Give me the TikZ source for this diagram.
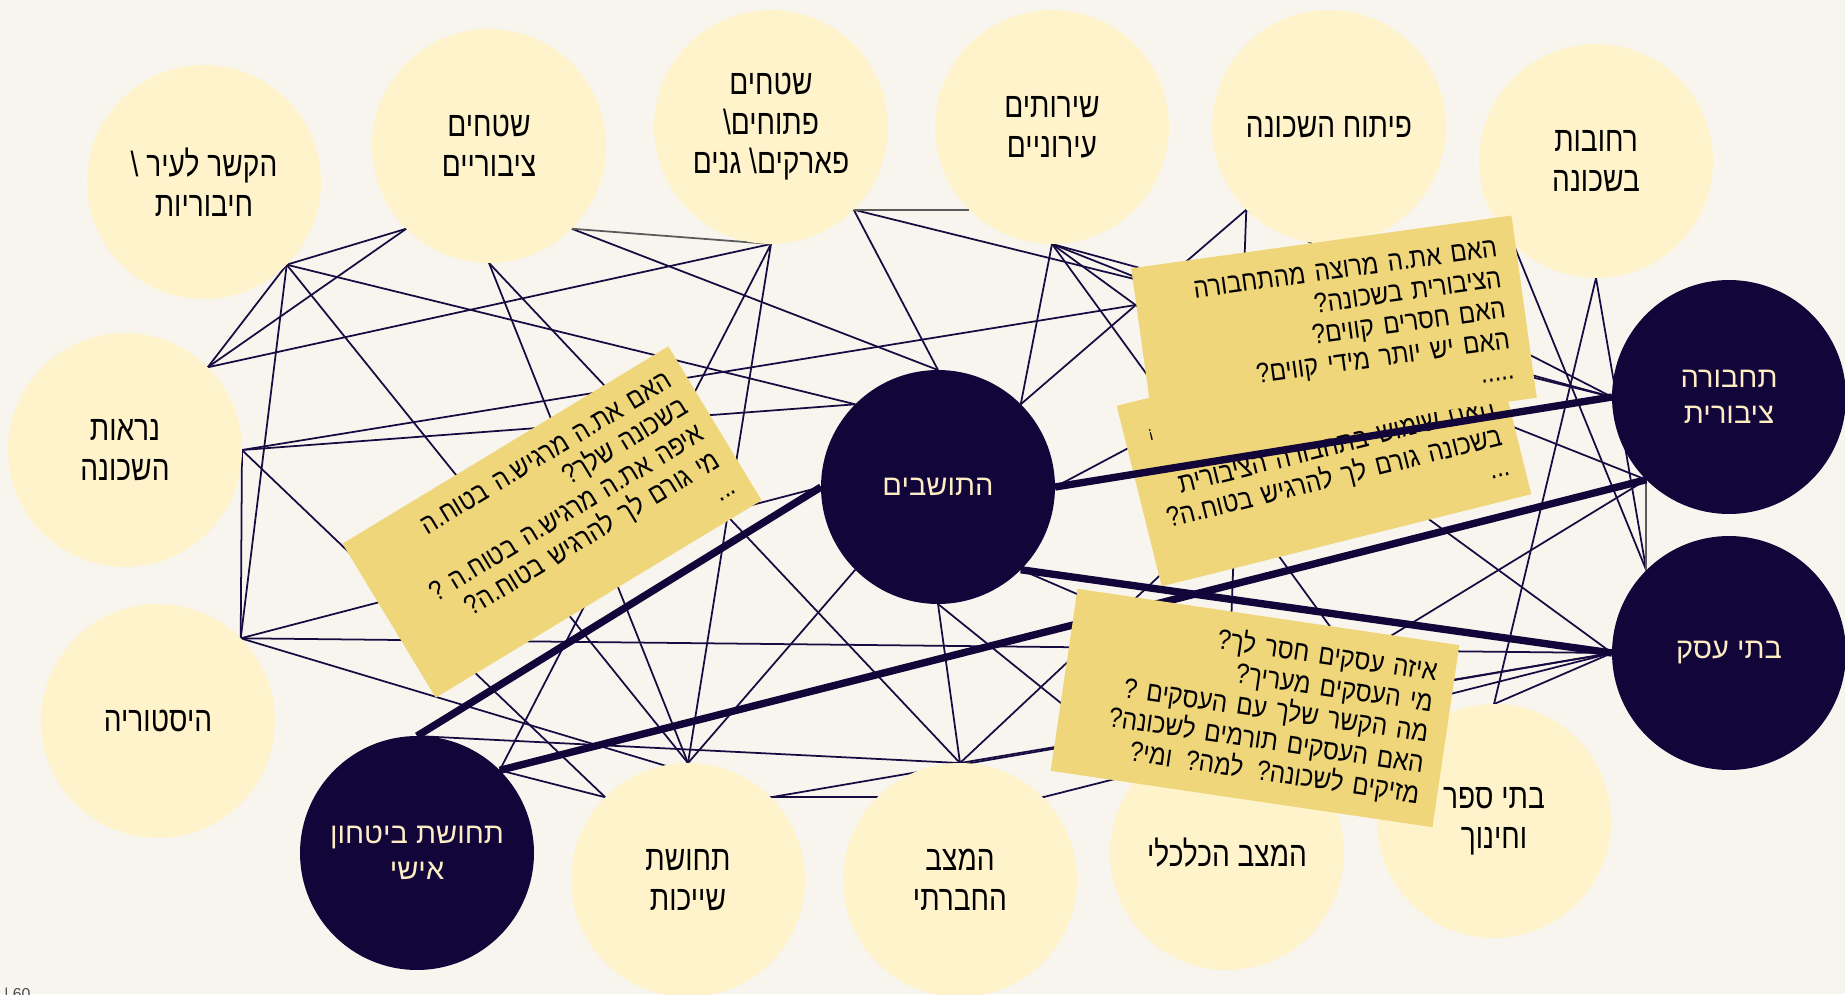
\documentclass[tikz,border=0pt]{standalone}
\usepackage{fontspec}
\setmainfont{Liberation Sans}
\newfontfamily\hebfont[Script=Hebrew]{Liberation Sans}
\newfontfamily\hebnarrow[Script=Hebrew,FakeStretch=0.8]{Liberation Sans}
\newfontfamily\hebnote[Script=Hebrew,FakeStretch=0.86]{Liberation Sans}
\TeXXeTstate=1
\newcommand{\heb}[1]{\beginR #1\endR}

\definecolor{paper}{RGB}{248,245,238}
\definecolor{cream}{RGB}{255,243,204}
\definecolor{ink}{RGB}{18,5,58}
\definecolor{wire}{RGB}{22,12,66}
\definecolor{greyline}{RGB}{90,90,90}
\definecolor{sticky}{RGB}{239,214,122}
\definecolor{pale}{RGB}{253,236,196}

\pgfdeclarelayer{back}
\pgfsetlayers{back,main}

\tikzstyle{topic}=[circle, fill=cream, text=black, minimum size=4.68cm, inner sep=0pt, outer sep=0pt, align=center, font=\hebnarrow\fontsize{20}{22.5}\selectfont]
\tikzstyle{core}=[topic, fill=ink, text=pale, font=\hebfont\fontsize{16.5}{20.5}\selectfont]
\tikzstyle{note}=[rectangle, fill=sticky, text=black, inner sep=0pt, outer sep=0pt, align=right, font=\hebnote\fontsize{16}{17.6}\selectfont]
\tikzstyle{link}=[draw, color=wire, line width=1pt]
\tikzstyle{faint}=[draw, color=greyline, line width=1pt]
\tikzstyle{strong}=[draw, color=ink, line width=4.2pt]

\begin{document}
\begin{tikzpicture}[x=0.02cm, y=-0.02cm]
    \useasboundingbox (0,0) rectangle (1845,994);
    \node[topic] (kesher) at (204,182) {\heb{הקשר לעיר \textbackslash}\\\heb{חיבוריות}};
    \node[topic] (tziburi) at (489,146) {\heb{שטחים}\\\heb{ציבוריים}};
    \node[topic] (ptuchim) at (771,127) {\heb{שטחים}\\\heb{פתוחים\textbackslash}\\\heb{פארקים\textbackslash{} גנים}};
    \node[topic] (sherutim) at (1052,127) {\heb{שירותים}\\\heb{עירוניים}};
    \node[topic] (pituach) at (1329,127) {\heb{פיתוח השכונה}};
    \node[topic] (rechovot) at (1596,161) {\heb{רחובות}\\\heb{בשכונה}};
    \node[topic] (nirut) at (125,450) {\heb{נראות}\\\heb{השכונה}};
    \node[topic] (historia) at (158,721) {\heb{היסטוריה}};
    \node[core] (bitachon) at (417,853) {\heb{תחושת ביטחון}\\\heb{אישי}};
    \node[topic] (shaychut) at (688,880) {\heb{תחושת}\\\heb{שייכות}};
    \node[topic] (chevrati) at (960,880) {\heb{המצב}\\\heb{החברתי}};
    \node[topic] (kalkali) at (1227,853) {\heb{המצב הכלכלי}};
    \node[topic] (batesefer) at (1494,821) {\heb{בתי ספר}\\\heb{וחינוך}};
    \node[core] (tachbura) at (1729,397) {\heb{תחבורה}\\\heb{ציבורית}};
    \node[core] (asakim) at (1729,653) {\heb{בתי עסק}};
    \node[core] (toshavim) at (938,487) {\heb{התושבים}};

    \begin{pgfonlayer}{back}
    \fill[paper] (0,0) rectangle (1845,994);
    \path[link]
    (kesher.south east) edge (tziburi.south west)
    (kesher.south east) edge (nirut.north east)
    (tziburi.south west) edge (nirut.north east)
    (nirut.north east) edge (ptuchim.south)
    (kesher.south east) edge (historia.north east)
    (kesher.south east) edge (toshavim.north west)
    (kesher.south east) edge (shaychut.north)
    (tziburi.south east) edge (toshavim.north)
    (tziburi.south) edge (shaychut.north)
    (tziburi.south) edge (chevrati.north)
    (ptuchim.south) edge (bitachon.north east)
    (ptuchim.south) edge (shaychut.north)
    (ptuchim.south east) edge (toshavim.north)
    (ptuchim.south east) edge (tachbura.west)
    (sherutim.south) edge (toshavim.north east)
    (sherutim.south) edge (tachbura.west)
    (sherutim.south) edge (tachbura.south west)
    (sherutim.south) edge (asakim.west)
    (sherutim.south) edge (batesefer.north west)
    (pituach.south west) edge (toshavim.north east)
    (pituach.south west) edge (tachbura.west)
    (pituach.south west) edge (kalkali.north)
    (nirut.east) edge (rechovot.south west)
    (nirut.east) edge (toshavim.north west)
    (nirut.east) edge (shaychut.north west)
    (nirut.east) edge (historia.north east)
    (historia.north east) edge (toshavim.west)
    (historia.north east) edge (asakim.west)
    (historia.north east) edge (shaychut.north east)
    (bitachon.north) edge (chevrati.north)
    (bitachon.north east) edge (shaychut.north west)
    (toshavim.south west) edge (shaychut.north)
    (toshavim.south) edge (chevrati.north)
    (toshavim.south) edge (kalkali.north west)
    (toshavim.south east) edge (batesefer.north west)
    (toshavim.east) edge (rechovot.south west)
    (shaychut.north east) edge (chevrati.north east)
    (shaychut.north east) edge (asakim.west)
    (chevrati.north) edge (asakim.west)
    (chevrati.north east) edge (asakim.west)
    (chevrati.north) edge (rechovot.south west)
    (tachbura.south west) edge (kalkali.north)
    (rechovot.south) edge (batesefer.north)
    (rechovot.south) edge (asakim.north west)
    (rechovot.south west) edge (asakim.north west)
    (batesefer.north) edge (asakim.west)
    ;
    \path[faint]
    (tziburi.south east) edge (ptuchim.south)
    (ptuchim.south east) edge (sherutim.south west)
    (tachbura.south west) edge (asakim.north west)
    ;
    \end{pgfonlayer}

    \node[note, minimum width=7.62cm, minimum height=3.6cm, text width=6.98cm, rotate=31.2] (qsafe) at (552,522)
    {\heb{האם את.ה  מרגיש.ה בטוח.ה}\\\heb{בשכונה שלך?}\\\heb{איפה את.ה מרגיש.ה בטוח.ה ?}\\\heb{מי גורם לך להרגיש בטוח.ה?}\\\heb{...}};
    \node[note, minimum width=7.62cm, minimum height=3.72cm, rotate=14] (qride) at (1324,450) {};
    \node[note, fill=none, text width=6.9cm, rotate=14] (qridetext) at (1334,478)
    {\heb{האם שימוש בתחבורה הציבורית}\\\heb{בשכונה גורם לך להרגיש בטוח.ה?}\\\heb{...}};
    \node[note, fill=none, rotate=14, font=\hebfont\fontsize{9}{9}\selectfont] (qmark) at (1151,435) {¡};
    \node[note, minimum width=7.68cm, minimum height=3.68cm, text width=6.92cm, rotate=7.9] (qlines) at (1334,333)
    {\heb{האם את.ה מרוצה מהתחבורה}\\\heb{הציבורית בשכונה?}\\\heb{האם חסרים קווים?}\\\heb{האם יש יותר מידי קווים?}\\\heb{.....}};

    \path[strong]
    (bitachon.north) edge (toshavim.west)
    (toshavim.east) edge (tachbura.west)
    (toshavim.south east) edge (asakim.west)
    (bitachon.north east) edge (tachbura.south west)
    ;

    \node[note, minimum width=7.72cm, minimum height=3.68cm, text width=7.0cm, rotate=-8.4] (qshops) at (1255,708)
    {\heb{איזה עסקים חסר לך?}\\\heb{מי העסקים מעריך?}\\\heb{מה הקשר שלך עם העסקים ?}\\\heb{האם העסקים תורמים לשכונה?}\\\heb{מזיקים לשכונה? למה? ומי?}};

    \node[anchor=base west, text=black!70, font=\fontsize{9}{9}\selectfont, inner sep=0pt] (page) at (4,999) {| 60};
\end{tikzpicture}
\end{document}
